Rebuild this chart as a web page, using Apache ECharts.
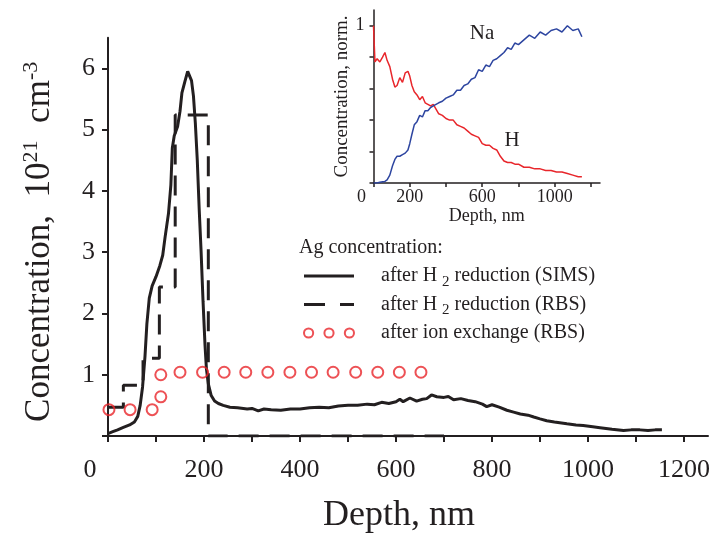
<!DOCTYPE html>
<html><head><meta charset="utf-8">
<script src="https://cdn.jsdelivr.net/npm/echarts@6/dist/echarts.min.js"></script>
<style>html,body{margin:0;padding:0;background:#fff}#c{width:711px;height:534px}</style>
</head><body><div id="c"></div>
<script>
// ---- main plot: Ag concentration (10^21 cm^-3) vs depth (nm)
const simsDepth = [0,10,20,32,45,55,62,67,72,77,81,86,92,100,108,114,119,126,131,134,138,145,150,154,160,166,170,174,178,182,186,190,194,198,202,205,209,215,222,230,240,254,270,290,300,313,325,340,360,380,400,420,440,460,480,500,520,540,555,570,585,600,608,615,629,643,655,664,674,685,700,709,720,735,750,765,780,789,800,815,831,845,859,875,887,900,914,930,956,975,990,1010,1025,1050,1074,1090,1108,1125,1140,1154];
const simsValue = [0.04,0.07,0.10,0.14,0.18,0.23,0.32,0.50,0.80,1.29,1.83,2.25,2.45,2.60,2.78,2.95,3.25,3.63,4.10,4.70,4.90,5.05,5.30,5.60,5.78,5.95,5.96,5.80,5.55,5.10,4.50,3.70,3.00,2.20,1.50,1.10,0.85,0.66,0.57,0.53,0.50,0.47,0.46,0.44,0.45,0.41,0.44,0.43,0.42,0.44,0.44,0.46,0.47,0.46,0.49,0.50,0.50,0.52,0.51,0.55,0.53,0.56,0.60,0.56,0.62,0.57,0.60,0.61,0.67,0.64,0.63,0.645,0.59,0.61,0.58,0.56,0.52,0.48,0.51,0.47,0.42,0.39,0.36,0.34,0.31,0.28,0.25,0.23,0.20,0.18,0.17,0.15,0.135,0.11,0.09,0.10,0.10,0.09,0.10,0.10];
const rbsDepth = [0,32,73,107,140,209,700];
const rbsValue = [0.47,0.83,1.27,2.43,5.24,0,0];
const ionDepth = [2,46,92,110,110,150,197,242,287,333,379,424,469,516,562,607,652];
const ionValue = [0.43,0.43,0.43,0.64,1.00,1.04,1.04,1.04,1.04,1.04,1.04,1.04,1.04,1.04,1.04,1.04,1.04];
const mainXTicks = [0,100,200,300,400,500,600,700,800,900,1000,1100,1200];
const mainXLabels = [0,200,400,600,800,1000,1200];
const mainYTicks = [0,1,2,3,4,5,6];
const mainYLabels = [1,2,3,4,5,6];
const legendNames = ['after H2 reduction (SIMS)','after H2 reduction (RBS)','after ion exchange (RBS)'];

// ---- inset: normalized concentration of H and Na vs depth
const insetDepth = [0,8,20,35,50,63,75,90,105,118,130,145,160,175,190,200,212,225,240,255,270,285,300,315,330,345,360,380,400,420,440,460,480,500,520,540,560,580,600,620,640,660,680,700,720,740,760,780,800,830,860,890,920,950,980,1010,1040,1070,1100,1130,1150];
const hValue = [1.00,0.77,0.79,0.77,0.80,0.83,0.78,0.74,0.66,0.61,0.62,0.67,0.64,0.70,0.71,0.68,0.62,0.58,0.56,0.53,0.55,0.51,0.50,0.49,0.50,0.47,0.44,0.43,0.41,0.40,0.40,0.37,0.36,0.35,0.33,0.31,0.30,0.29,0.25,0.24,0.24,0.22,0.21,0.17,0.14,0.13,0.13,0.12,0.12,0.10,0.10,0.09,0.09,0.08,0.08,0.07,0.07,0.06,0.05,0.04,0.04];
const naValue = [0.00,0.00,0.00,0.005,0.008,0.01,0.02,0.05,0.11,0.15,0.17,0.17,0.18,0.19,0.21,0.25,0.31,0.37,0.39,0.43,0.42,0.46,0.46,0.48,0.49,0.50,0.51,0.52,0.54,0.55,0.56,0.59,0.59,0.62,0.63,0.66,0.67,0.72,0.71,0.75,0.74,0.78,0.79,0.81,0.83,0.86,0.85,0.89,0.88,0.91,0.94,0.92,0.96,0.94,0.97,0.98,0.96,1.00,0.97,0.98,0.93];
const insetXTicks = [0,200,400,600,800,1000,1200];
const insetXLabels = [0,200,600,1000];
const insetYTicks = [0,0.2,0.4,0.6,0.8,1.0];
const insetYLabels = [1];

const FONT = 'Liberation Serif';
const INK = '#231f20';
const RED = '#e8262b';
const BLUE = '#2d45a0';
const zip = (a, b) => a.map((x, i) => [x, b[i]]);

const chart = echarts.init(document.getElementById('c'), null, {renderer: 'canvas'});
const axisLine = {show: true, lineStyle: {color: INK, width: 2}};

const solidIcon = 'path://M0,0H50V3H0Z';
const dashIcon = 'path://M0,0H21V3H0ZM36,0H50V3H36Z';
const threeCircles = 'path://M0.5,5A4.5,4.5 0 1,1 9.5,5A4.5,4.5 0 1,1 0.5,5ZM20.5,5A4.5,4.5 0 1,1 29.5,5A4.5,4.5 0 1,1 20.5,5ZM40.5,5A4.5,4.5 0 1,1 49.5,5A4.5,4.5 0 1,1 40.5,5Z';

chart.setOption({
  animation: false,
  backgroundColor: '#fff',
  title: {
    text: 'Ag concentration:', left: 294, top: 233,
    textStyle: {fontFamily: FONT, fontSize: 20, fontWeight: 'normal', color: INK}
  },
  legend: {
    orient: 'vertical', left: 298, top: 261, itemWidth: 50, itemHeight: 12, itemGap: 5,
    data: [
      {name: legendNames[0], icon: solidIcon, itemStyle: {color: INK, borderWidth: 0}},
      {name: legendNames[1], icon: dashIcon, itemStyle: {color: INK, borderWidth: 0}},
      {name: legendNames[2], icon: threeCircles, itemStyle: {color: 'rgba(0,0,0,0)', borderColor: RED, borderWidth: 2}}
    ],
    formatter: n => n.replace('H2', 'H {sub|2}'),
    textStyle: {
      fontFamily: FONT, fontSize: 20, color: INK, padding: [0, 0, 0, 22],
      rich: {sub: {fontFamily: FONT, fontSize: 15, color: INK, verticalAlign: 'bottom', padding: [12, 0, 0, 0]}}
    }
  },
  grid: [
    {left: 108, right: 3, top: 37.7, bottom: 98, outerBoundsMode: 'none', containLabel: false},
    {left: 373.5, right: 111, top: 10, bottom: 351, outerBoundsMode: 'none', containLabel: false}
  ],
  xAxis: [{
    gridIndex: 0, type: 'value', min: 0, max: 1250,
    name: 'Depth, nm', nameLocation: 'middle', nameGap: 62,
    nameTextStyle: {fontFamily: FONT, fontSize: 36, color: INK, padding: [0, 18, 0, 0]},
    axisLine: axisLine,
    axisTick: {show: true, inside: false, length: 6, lineStyle: {color: INK, width: 2}, customValues: mainXTicks},
    axisLabel: {
      customValues: mainXLabels, margin: 21, fontFamily: FONT, fontSize: 26, color: INK,
      formatter: v => v === 0 ? '{z|0}' : String(v),
      rich: {z: {fontFamily: FONT, fontSize: 26, color: INK, padding: [0, 36, 0, 0]}}
    },
    splitLine: {show: false}
  }, {
    gridIndex: 1, type: 'value', min: 0, max: 1250,
    name: 'Depth, nm', nameLocation: 'middle', nameGap: 19,
    nameTextStyle: {fontFamily: FONT, fontSize: 18, color: INK},
    axisLine: {show: true, lineStyle: {color: INK, width: 1.5}},
    axisTick: {show: true, length: 4, lineStyle: {color: INK, width: 1.5}, customValues: insetXTicks},
    axisLabel: {
      customValues: insetXLabels, margin: 5, fontFamily: FONT, fontSize: 18, color: INK,
      formatter: v => v === 0 ? '{z|0}' : String(v),
      rich: {z: {fontFamily: FONT, fontSize: 18, color: INK, padding: [0, 24, 0, 0]}}
    },
    splitLine: {show: false}
  }],
  yAxis: [{
    gridIndex: 0, type: 'value', min: 0, max: 6.5,
    name: '{a|Concentration,  10}{s|21}{a|  cm}{s|-3}', nameLocation: 'middle', nameRotate: 90, nameGap: 48,
    nameTextStyle: {
      fontFamily: FONT, fontSize: 35, color: INK, padding: [0, 10, 0, 0],
      rich: {
        a: {fontFamily: FONT, fontSize: 35, color: INK, lineHeight: 40},
        s: {fontFamily: FONT, fontSize: 22, color: INK, lineHeight: 22, verticalAlign: 'top'}
      }
    },
    axisLine: axisLine,
    axisTick: {show: true, length: 6, lineStyle: {color: INK, width: 2}, customValues: mainYTicks},
    axisLabel: {customValues: mainYLabels, margin: 13, fontFamily: FONT, fontSize: 26, color: INK},
    splitLine: {show: false}
  }, {
    gridIndex: 1, type: 'value', min: 0, max: 1.1,
    name: 'Concentration, norm.', nameLocation: 'middle', nameRotate: 90, nameGap: 20,
    nameTextStyle: {fontFamily: FONT, fontSize: 19, color: INK},
    axisLine: {show: true, lineStyle: {color: INK, width: 1.5}},
    axisTick: {show: true, length: 4, lineStyle: {color: INK, width: 1.5}, customValues: insetYTicks},
    axisLabel: {customValues: insetYLabels, margin: 9, fontFamily: FONT, fontSize: 18, color: INK},
    splitLine: {show: false}
  }],
  graphic: [
    {type: 'text', x: 482, y: 33, style: {text: 'Na', font: '21px "Liberation Serif"', fill: INK, align: 'center', verticalAlign: 'middle'}},
    {type: 'text', x: 512, y: 140, style: {text: 'H', font: '21px "Liberation Serif"', fill: INK, align: 'center', verticalAlign: 'middle'}}
  ],
  series: [
    {
      name: legendNames[0], type: 'line', xAxisIndex: 0, yAxisIndex: 0, symbol: 'none',
      data: zip(simsDepth, simsValue), lineStyle: {color: INK, width: 3}, itemStyle: {color: INK}, z: 3
    },
    {
      name: legendNames[1], type: 'line', xAxisIndex: 0, yAxisIndex: 0, symbol: 'none', step: 'end',
      data: zip(rbsDepth, rbsValue), lineStyle: {color: INK, width: 3, type: [20, 11]}, itemStyle: {color: INK}, z: 2
    },
    {
      name: legendNames[2], type: 'scatter', xAxisIndex: 0, yAxisIndex: 0, symbol: 'circle', symbolSize: 11,
      data: zip(ionDepth, ionValue), itemStyle: {color: 'rgba(0,0,0,0)', borderColor: RED, borderWidth: 2}, z: 4
    },
    {
      name: 'H', type: 'line', xAxisIndex: 1, yAxisIndex: 1, symbol: 'none',
      data: zip(insetDepth, hValue), lineStyle: {color: RED, width: 1.5}
    },
    {
      name: 'Na', type: 'line', xAxisIndex: 1, yAxisIndex: 1, symbol: 'none',
      data: zip(insetDepth, naValue), lineStyle: {color: BLUE, width: 1.5}
    }
  ]
});
</script>
</body></html>
